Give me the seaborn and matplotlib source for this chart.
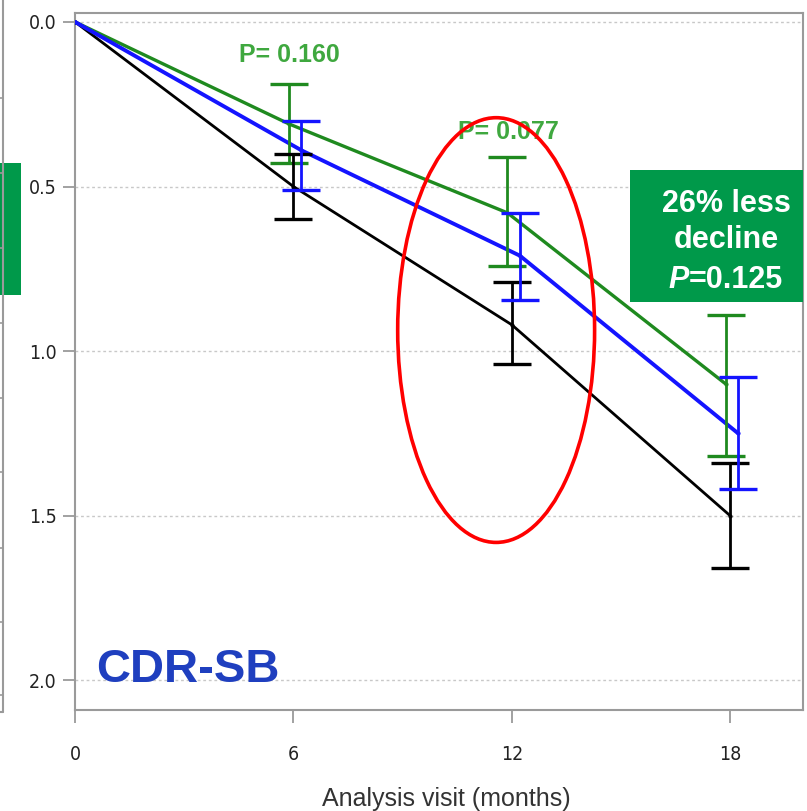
import numpy as np
import pandas as pd
import matplotlib
matplotlib.use("Agg")
import matplotlib.pyplot as plt
import seaborn as sns
from matplotlib.patches import Ellipse, Rectangle
from matplotlib.lines import Line2D

# ---- data ----
visits = [0, 6, 12, 18]
placebo = [0.0, 0.50, 0.92, 1.50]
placebo_lo = [0.0, 0.40, 0.79, 1.34]
placebo_hi = [0.0, 0.60, 1.04, 1.66]
blue_mean = [0.0, 0.39, 0.71, 1.25]
blue_lo = [0.0, 0.30, 0.58, 1.08]
blue_hi = [0.0, 0.51, 0.845, 1.42]
green_mean = [0.0, 0.31, 0.58, 1.10]
green_lo = [0.0, 0.19, 0.41, 0.89]
green_hi = [0.0, 0.43, 0.74, 1.32]
p_labels = ["P= 0.160", "P= 0.077"]
p_visits = [6, 12]
box_lines = ["26% less", "decline"]
box_p = "0.125"
yticks = [0.0, 0.5, 1.0, 1.5, 2.0]
xticks = [0, 6, 12, 18]

sns.set_theme(style="white")
plt.rcParams['font.family'] = ['Liberation Sans', 'DejaVu Sans']

fig = plt.figure(figsize=(8.07, 8.11), dpi=100)
ax = fig.add_axes([75/807, 101/811, 728/807, 697/811])

series = [
    ("green", green_mean, green_lo, green_hi, "#1f8a1f", -0.12, 2.4, 2.0),
    ("black", placebo, placebo_lo, placebo_hi, "#000000", 0.0, 2.0, 2.0),
    ("blue", blue_mean, blue_lo, blue_hi, "#1414ff", 0.22, 2.8, 2.0),
]
rows = []
for name, m, lo, hi, col, off, lw, elw in series:
    for v, mv, l, h in zip(visits, m, lo, hi):
        x = v + off if v > 0 else 0
        rows.append(dict(group=name, x=x, y=mv, lo=l, hi=h))
df = pd.DataFrame(rows)

for name, m, lo, hi, col, off, lw, elw in series:
    d = df[df.group == name]
    sns.lineplot(data=d, x="x", y="y", color=col, lw=lw, ax=ax, zorder=3,
                 marker="o", markersize=3, markeredgewidth=0, sort=False)
    e = d[d.x > 0]
    ax.errorbar(e.x, e.y, yerr=[e.y - e.lo, e.hi - e.y], fmt="none",
                ecolor=col, elinewidth=elw, capsize=13.5, capthick=2.4, zorder=4)

ax.set_xlim(0, 20)
ax.set_ylim(2.09, -0.027)
ax.set_xticks(xticks)
ax.set_yticks(yticks)
ax.set_yticklabels([f"{t:.1f}" for t in yticks])
ax.set_xticklabels([str(t) for t in xticks])
for t in yticks:
    ax.axhline(t, color="#c8c8c8", lw=1.0, ls=(0, (2, 2)), zorder=1)

for s in ax.spines.values():
    s.set_color("#9a9a9a")
    s.set_linewidth(1.5)
ax.tick_params(axis="both", direction="out", length=9, width=1.3, color="#9a9a9a",
               labelcolor="#222222")
ax.tick_params(axis="y", pad=4, left=True)
ax.tick_params(axis="x", pad=16, bottom=True)
for lab in ax.get_xticklabels() + ax.get_yticklabels():
    lab.set_fontfamily(['DejaVu Sans'])
    lab.set_fontstretch('condensed')
    lab.set_fontsize(14)

ax.set_xlabel("Analysis visit (months)", fontsize=18, color="#333333")
ax.set_ylabel("")
ax.xaxis.set_label_coords(0.51, -0.11)

# p-value annotations
for pv, lab, yv in zip(p_visits, p_labels, [0.10, 0.334]):
    ax.text(pv - 0.1, yv, lab, color="#3fa83f", fontsize=18, fontweight="bold",
            ha="center", va="center", zorder=6)

# red ellipse
ax.add_patch(Ellipse((11.57, 0.936), 5.41, 1.29, fill=False, edgecolor="#ff0000",
                     lw=2.6, zorder=7))

# green box with text
ax.add_patch(Rectangle((15.25, 0.45), 4.75, 0.40, facecolor="#00994a",
                       edgecolor="none", zorder=5, clip_on=False))
ax.text(17.9, 0.552, box_lines[0], color="white", fontsize=22, fontweight="bold",
        ha="center", va="center", zorder=6)
ax.text(17.9, 0.662, box_lines[1], color="white", fontsize=22, fontweight="bold",
        ha="center", va="center", zorder=6)
tp = ax.text(16.3, 0.784, "P", color="white", fontsize=22, fontweight="bold",
             fontstyle="italic", ha="left", va="center", zorder=6)
ax.annotate("=" + box_p, xy=(1, 0.5), xycoords=tp, color="white", fontsize=22,
            fontweight="bold", ha="left", va="center", zorder=6)

# CDR-SB label
ax.text(0.58, 1.97, "CDR-SB", color="#1f3fbf", fontsize=34, fontweight="bold",
        ha="left", va="center", zorder=6)

# partial neighbouring panel at left edge
fig.add_artist(Line2D([3/807, 3/807], [1, 1 - 712/811], color="#9a9a9a", lw=1.5))
fig.add_artist(Line2D([0, 3/807], [1 - 712/811, 1 - 712/811], color="#9a9a9a", lw=1.5))
for yy in [98, 173, 248, 323, 398, 472, 548, 622, 695]:
    fig.add_artist(Line2D([0, 3/807], [1 - yy/811, 1 - yy/811], color="#9a9a9a", lw=1.2))
fig.add_artist(Rectangle((0, 1 - 295/811), 21/807, 132/811, facecolor="#00994a",
                         edgecolor="none", transform=fig.transFigure))

fig.savefig("out.png", dpi=100)
